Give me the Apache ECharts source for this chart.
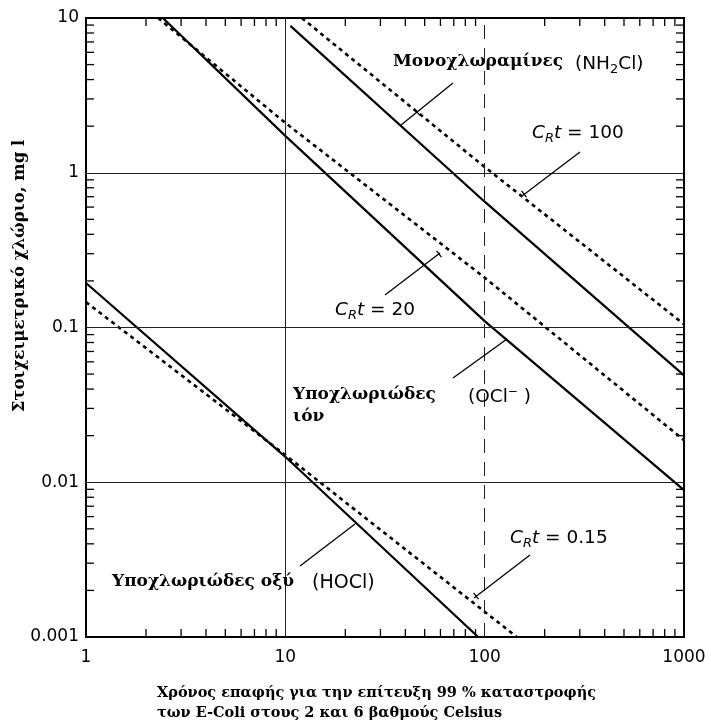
<!DOCTYPE html>
<html><head><meta charset="utf-8">
<script src="https://cdn.jsdelivr.net/npm/echarts@6/dist/echarts.min.js"></script>
<style>html,body{margin:0;padding:0;background:#fff}#c{width:711px;height:723px}</style>
</head><body><div id="c"></div>
<script>
// Tick labels and reference lines
const xTickLabels = ['1', '10', '100', '1000'];
const yTickLabels = ['0.001', '0.01', '0.1', '1', '10'];
const xMinorTicks = [2,3,4,5,6,7,8,9,20,30,40,50,60,70,80,90,200,300,400,500,600,700,800,900];
const yMinorTicks = [0.002,0.003,0.004,0.005,0.006,0.007,0.008,0.009,0.02,0.03,0.04,0.05,0.06,0.07,0.08,0.09,0.2,0.3,0.4,0.5,0.6,0.7,0.8,0.9,2,3,4,5,6,7,8,9];
const xGridValues = [10, 100];
const yGridValues = [1, 0.1, 0.01];

// Curves: contact time (min) vs chlorine (mg/l)
const nh2clTime = [10.6, 100, 1000];
const nh2clConc = [8.9, 0.65, 0.049];
const ct100Time = [12.1, 100, 1000];
const ct100Conc = [10, 1.09, 0.105];
const oclTime = [2.43, 10, 100, 1000];
const oclConc = [10, 1.73, 0.11, 0.0089];
const ct20Time = [2.3, 10, 100, 1000];
const ct20Conc = [10, 2.1, 0.21, 0.0187];
const hoclTime = [1, 10, 92.7];
const hoclConc = [0.194, 0.0146, 0.001];
const ct015Time = [1, 10, 145];
const ct015Conc = [0.146, 0.015, 0.001];

const zip = (a, b) => a.map((v, i) => [v, b[i]]);
const SERIF = '"DejaVu Serif", "Liberation Serif", serif';
const SANS = '"DejaVu Sans", "Liberation Sans", sans-serif';

const solid = {color: '#000', width: 2.2, type: 'solid'};
const dashed = {color: '#000', width: 2.6, type: [4, 4]};
function lineSeries(name, t, c, style) {
  return {name, type: 'line', data: zip(t, c), showSymbol: false, symbol: 'none',
    lineStyle: style, silent: true, clip: true, z: 3};
}

const chart = echarts.init(document.getElementById('c'), null, {renderer: 'canvas'});

function leader(x1, y1, x2, y2, tx, ty) {
  const els = [{type: 'line', shape: {x1, y1, x2, y2}, style: {stroke: '#000', lineWidth: 1.3}, z: 10}];
  if (tx !== undefined) {
    const dx = x2 - x1, dy = y2 - y1, L = Math.hypot(dx, dy);
    const px = -dy / L * 4, py = dx / L * 4;
    els.push({type: 'line', shape: {x1: tx - px, y1: ty - py, x2: tx + px, y2: ty + py}, style: {stroke: '#000', lineWidth: 1.3}, z: 10});
  }
  return els;
}
function serifText(text, x, y, size, align) {
  return {type: 'text', x, y, z: 10, style: {text, fill: '#000', font: 'bold ' + (size || 15) + 'px ' + SERIF, align: align || 'left', verticalAlign: 'middle'}};
}
const crRich = {
  c: {fontFamily: SANS, fontSize: 18.5, fontStyle: 'italic', fill: '#000'},
  r: {fontFamily: SANS, fontSize: 13, fontStyle: 'italic', fill: '#000', padding: [12, 0, 0, 0]},
  n: {fontFamily: SANS, fontSize: 18.5, fill: '#000'}
};
function crText(val, x, y) {
  return {type: 'text', x, y, z: 10, style: {text: '{c|C}{r|R}{c|t}{n| = ' + val + '}', rich: crRich, align: 'left', verticalAlign: 'middle'}};
}
const chemRich = {
  n: {fontFamily: SANS, fontSize: 18.5, fill: '#000'},
  s: {fontFamily: SANS, fontSize: 13, fill: '#000', padding: [12, 0, 0, 0]},
  p: {fontFamily: SANS, fontSize: 12, fill: '#000', padding: [0, 0, 11, 0]}
};

const option = {
  animation: false,
  backgroundColor: '#fff',
  grid: {left: 86, right: 27, top: 18, bottom: 86, show: true, borderColor: '#000', borderWidth: 2, backgroundColor: 'transparent'},
  xAxis: {
    type: 'log', logBase: 10, min: 1, max: 1000,
    axisLine: {show: false}, axisTick: {show: false}, splitLine: {show: false}, minorTick: {show: false},
    axisLabel: {color: '#000', fontFamily: SANS, fontSize: 17, margin: 12, showMaxLabel: true, showMinLabel: true,
      formatter: v => xTickLabels[Math.round(Math.log10(v))]}
  },
  yAxis: {
    type: 'log', logBase: 10, min: 0.001, max: 10,
    axisLine: {show: false}, axisTick: {show: false}, splitLine: {show: false}, minorTick: {show: false},
    axisLabel: {color: '#000', fontFamily: SANS, fontSize: 17, margin: 7, showMaxLabel: true, showMinLabel: true,
      formatter: v => yTickLabels[Math.round(Math.log10(v)) + 3]}
  },
  series: [
    {
      type: 'custom', coordinateSystem: 'cartesian2d', silent: true, clip: false, z: 2,
      data: xMinorTicks.map(v => [v, 1]),
      renderItem: (params, api) => {
        const v = api.value(0);
        const b = api.coord([v, 0.001]);
        const t = api.coord([v, 10]);
        return {type: 'group', children: [
          {type: 'line', shape: {x1: b[0], y1: b[1], x2: b[0], y2: b[1] - 8}, style: {stroke: '#000', lineWidth: 1.3}},
          {type: 'line', shape: {x1: t[0], y1: t[1], x2: t[0], y2: t[1] + 8}, style: {stroke: '#000', lineWidth: 1.3}}
        ]};
      },
      markLine: {
        silent: true, symbol: ['none', 'none'], label: {show: false}, animation: false,
        lineStyle: {color: '#222', width: 1, type: 'solid'},
        data: [
          ...xGridValues.map((v, i) => ({xAxis: v, lineStyle: {color: '#222', width: 1, type: i === 1 ? [14, 9] : 'solid'}})),
          ...yGridValues.map(v => ({yAxis: v, lineStyle: {color: '#222', width: 1, type: 'solid'}}))
        ]
      }
    },
    {
      type: 'custom', coordinateSystem: 'cartesian2d', silent: true, clip: false, z: 2,
      data: yMinorTicks.map(v => [10, v]),
      renderItem: (params, api) => {
        const v = api.value(1);
        const l = api.coord([1, v]);
        const r = api.coord([1000, v]);
        return {type: 'group', children: [
          {type: 'line', shape: {x1: l[0], y1: l[1], x2: l[0] + 8, y2: l[1]}, style: {stroke: '#000', lineWidth: 1.3}},
          {type: 'line', shape: {x1: r[0], y1: r[1], x2: r[0] - 8, y2: r[1]}, style: {stroke: '#000', lineWidth: 1.3}}
        ]};
      }
    },
    lineSeries('NH2Cl', nh2clTime, nh2clConc, solid),
    lineSeries('CRt=100', ct100Time, ct100Conc, dashed),
    lineSeries('OCl-', oclTime, oclConc, solid),
    lineSeries('CRt=20', ct20Time, ct20Conc, dashed),
    lineSeries('HOCl', hoclTime, hoclConc, solid),
    lineSeries('CRt=0.15', ct015Time, ct015Conc, dashed)
  ],
  graphic: [
    serifText('Μονοχλωραμίνες', 393, 62, 17),
    {type: 'text', x: 575, y: 64, z: 10, style: {text: '{n|(NH}{s|2}{n|Cl)}', rich: chemRich, align: 'left', verticalAlign: 'middle'}},
    ...leader(453, 83, 401, 125, 417, 112),
    crText('100', 532, 133),
    ...leader(580, 152, 522, 196, 524, 194),
    crText('20', 335, 310),
    ...leader(385, 295, 440, 253, 439, 254),
    serifText('Υποχλωριώδες', 293, 395, 17),
    serifText('ιόν', 293, 417, 17),
    {type: 'text', x: 468, y: 397, z: 10, style: {text: '{n|(OCl}{p|−}{n| )}', rich: chemRich, align: 'left', verticalAlign: 'middle'}},
    ...leader(453, 378, 507, 339),
    serifText('Υποχλωριώδες οξύ', 112, 582, 17),
    {type: 'text', x: 312, y: 583, z: 10, style: {text: '(HOCl)', fill: '#000', font: '19px ' + SANS, align: 'left', verticalAlign: 'middle'}},
    ...leader(300, 566, 355, 524),
    crText('0.15', 510, 538),
    ...leader(530, 555, 474, 598, 476, 596),
    serifText('Χρόνος επαφής για την επίτευξη 99 % καταστροφής', 157, 693, 14.5),
    serifText('των E-Coli στους 2 και 6 βαθμούς Celsius', 157, 713, 14.5),
    {type: 'text', x: 20, y: 276, rotation: Math.PI / 2, z: 10,
      style: {text: 'Στοιχειμετρικό χλώριο, mg l', fill: '#000', font: 'bold 16.5px ' + SERIF, align: 'center', verticalAlign: 'middle'}}
  ]
};
chart.setOption(option);
</script>
</body></html>
